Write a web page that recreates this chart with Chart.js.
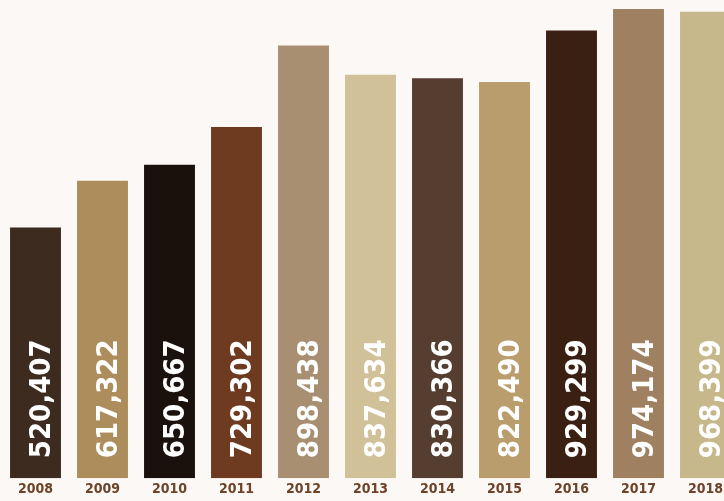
<!DOCTYPE html>
<html>
<head>
<meta charset="utf-8">
<script src="https://cdn.jsdelivr.net/npm/chart.js@4"></script>
<style>
  html, body { margin: 0; padding: 0; background: #fcf8f5; overflow: hidden; }
  #wrap { width: 741px; height: 501px; }
</style>
</head>
<body>
<div id="wrap"><canvas id="chart"></canvas></div>
<script>
const years = ['2008', '2009', '2010', '2011', '2012', '2013', '2014', '2015', '2016', '2017', '2018'];
const values = [520407, 617322, 650667, 729302, 898438, 837634, 830366, 822490, 929299, 974174, 968399];
const barColors = ['#3d2b1f', '#ae8d5c', '#1a110c', '#6e3b21', '#a88f72', '#d0c198',
                   '#553e30', '#b99d6d', '#3a2012', '#9f8060', '#c6b88b'];

const fontFamily = '"DejaVu Sans Condensed", "DejaVu Sans", sans-serif';

// white rotated value labels at the foot of each bar
const valueLabels = {
  id: 'valueLabels',
  afterDatasetsDraw(chart) {
    const ctx = chart.ctx;
    const meta = chart.getDatasetMeta(0);
    ctx.save();
    ctx.fillStyle = '#ffffff';
    ctx.font = 'bold 29px ' + fontFamily;
    ctx.textAlign = 'left';
    ctx.textBaseline = 'alphabetic';
    meta.data.forEach((bar, i) => {
      ctx.save();
      ctx.translate(bar.x + 14, chart.chartArea.bottom - 20);
      ctx.rotate(-Math.PI / 2);
      ctx.fillText(values[i].toLocaleString('en-US'), 0, 0);
      ctx.restore();
    });
    ctx.restore();
  }
};

new Chart(document.getElementById('chart'), {
  type: 'bar',
  data: {
    labels: years,
    datasets: [{
      data: values,
      backgroundColor: barColors,
      categoryPercentage: 1,
      barPercentage: 0.76
    }]
  },
  options: {
    responsive: true,
    maintainAspectRatio: false,
    animation: false,
    layout: { padding: { top: 9, left: 2, right: 2, bottom: 0 } },
    plugins: { legend: { display: false }, tooltip: { enabled: false } },
    scales: {
      x: {
        grid: { display: false, drawTicks: false },
        border: { display: false },
        ticks: {
          color: '#6e4328',
          font: { family: fontFamily, size: 14, weight: 'bold' },
          padding: 3,
          maxRotation: 0
        }
      },
      y: {
        display: false,
        min: 0,
        max: 974174
      }
    }
  },
  plugins: [valueLabels]
});
</script>
</body>
</html>
